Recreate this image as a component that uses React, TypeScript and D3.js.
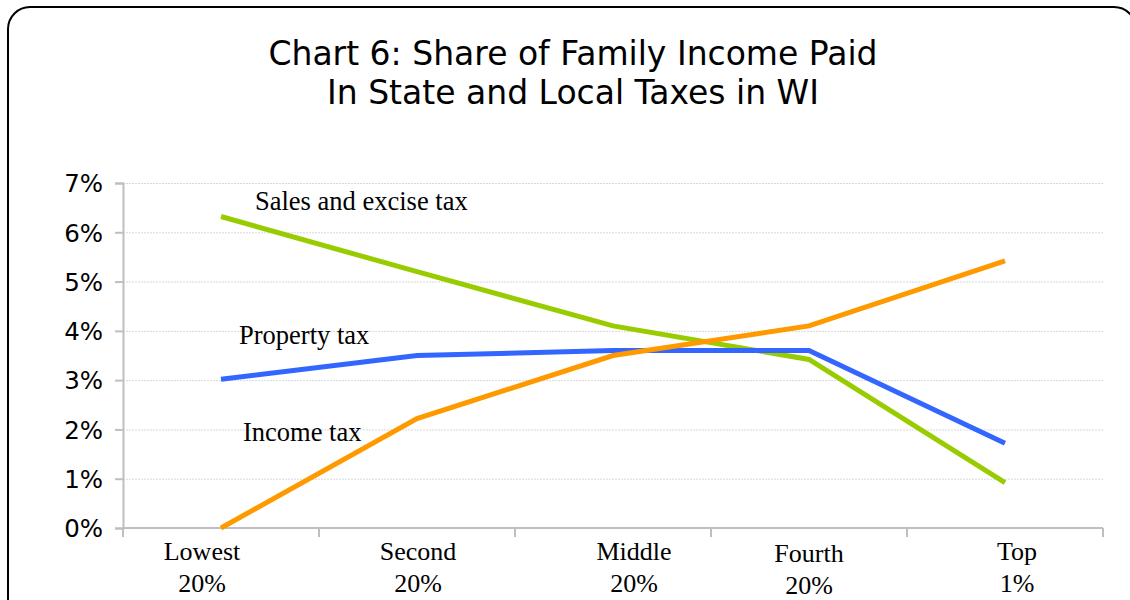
import { useEffect, useRef } from "react";
import * as d3 from "d3";

// Chart values
const categories = ["Lowest|20%", "Second|20%", "Middle|20%", "Fourth|20%", "Top|1%"];
const salesTax = [6.32, 5.2, 4.1, 3.42, 0.92];
const propertyTax = [3.02, 3.5, 3.6, 3.6, 1.72];
const incomeTax = [0.0, 2.22, 3.5, 4.1, 5.42];
const yTicks = [0, 1, 2, 3, 4, 5, 6, 7];
const titleLines = ["Chart 6: Share of Family Income Paid", "In State and Local Taxes in WI"];

const seriesNames = ["Sales and excise tax", "Property tax", "Income tax"];
const seriesColors = ["#99cc00", "#3366ff", "#ff9900"];

const width = 1130;
const height = 600;
const MARGIN = { top: 183, right: 27, bottom: 72, left: 123 };

// hand placement of text bits, like in the source chart
const LABEL_DX = [-19, 1, 21, 0, 12];
const LABEL_DY = [0, 0, 0, 2, 0];
const SERIES_LABEL_POS = [
  { x: 255, y: 210 },
  { x: 239, y: 344 },
  { x: 243, y: 441 },
];

export default function App() {
  const svgRef = useRef<SVGSVGElement | null>(null);

  useEffect(() => {
    const svg = d3.select(svgRef.current);
    svg.selectAll("*").remove();

    const boundsWidth = width - MARGIN.left - MARGIN.right;
    const boundsHeight = height - MARGIN.top - MARGIN.bottom;

    const xScale = d3
      .scaleBand<string>()
      .domain(categories)
      .range([0, boundsWidth]);
    const yScale = d3.scaleLinear().domain([0, 7]).range([boundsHeight, 0]);

    // frame
    svg
      .append("rect")
      .attr("x", 8)
      .attr("y", 7)
      .attr("width", 1128)
      .attr("height", 620)
      .attr("rx", 22)
      .attr("fill", "white")
      .attr("stroke", "black")
      .attr("stroke-width", 2);

    // title
    svg
      .append("g")
      .selectAll("text")
      .data(titleLines)
      .join("text")
      .attr("x", 573)
      .attr("y", (d, i) => 65 + i * 39)
      .attr("text-anchor", "middle")
      .attr("font-family", "DejaVu Sans, Verdana, sans-serif")
      .attr("font-size", 33)
      .attr("fill", "#000")
      .text((d) => d);

    const g = svg
      .append("g")
      .attr("transform", `translate(${MARGIN.left},${MARGIN.top})`);

    // gridlines
    g.append("g")
      .selectAll("line")
      .data(yTicks.slice(1))
      .join("line")
      .attr("x1", 0)
      .attr("x2", boundsWidth)
      .attr("y1", (d) => yScale(d) + 0.5)
      .attr("y2", (d) => yScale(d) + 0.5)
      .attr("stroke", "#d9d9d9")
      .attr("stroke-dasharray", "2,1");

    // y axis
    const yAxis = g
      .append("g")
      .call(
        d3
          .axisLeft(yScale)
          .tickValues(yTicks)
          .tickSize(8)
          .tickPadding(12)
          .tickFormat((d) => `${d}%`)
      );
    yAxis.select(".domain").attr("stroke", "#bfbfbf").attr("stroke-width", 2);
    yAxis.selectAll(".tick line").attr("stroke", "#bfbfbf").attr("stroke-width", 2);
    yAxis
      .selectAll(".tick text")
      .attr("font-family", "DejaVu Sans, Verdana, sans-serif")
      .attr("font-size", 24.5)
      .attr("fill", "#000")
      .attr("dy", "0.36em");

    // x axis: line + ticks at category boundaries
    const xAxis = g.append("g").attr("transform", `translate(0,${boundsHeight})`);
    xAxis
      .append("line")
      .attr("x1", 0)
      .attr("x2", boundsWidth)
      .attr("stroke", "#bfbfbf")
      .attr("stroke-width", 2);
    const boundaries = categories.map((c) => xScale(c) as number).concat(boundsWidth);
    xAxis
      .selectAll("line.tk")
      .data(boundaries)
      .join("line")
      .attr("class", "tk")
      .attr("x1", (d) => d)
      .attr("x2", (d) => d)
      .attr("y1", 0)
      .attr("y2", 9)
      .attr("stroke", "#bfbfbf")
      .attr("stroke-width", 2);

    const labels = xAxis
      .selectAll("text.cat")
      .data(categories)
      .join("text")
      .attr("class", "cat")
      .attr("text-anchor", "middle")
      .attr("font-family", "Liberation Serif, Times New Roman, serif")
      .attr("font-size", 26)
      .attr("fill", "#000");
    labels.each(function (d, i) {
      const cx = (xScale(d) as number) + xScale.bandwidth() / 2 + LABEL_DX[i];
      const parts = d.split("|");
      d3.select(this)
        .selectAll("tspan")
        .data(parts)
        .join("tspan")
        .attr("x", cx)
        .attr("y", (p, j) => 32 + LABEL_DY[i] + j * 32)
        .text((p) => p);
    });

    // lines
    const allSeries = [salesTax, propertyTax, incomeTax];
    const line = d3
      .line<number>()
      .x((d, i) => (xScale(categories[i]) as number) + xScale.bandwidth() / 2)
      .y((d) => yScale(d));

    g.append("g")
      .selectAll("path")
      .data(allSeries)
      .join("path")
      .attr("d", (d) => line(d))
      .attr("fill", "none")
      .attr("stroke", (d, i) => seriesColors[i])
      .attr("stroke-width", 5);

    // series labels
    svg
      .append("g")
      .selectAll("text")
      .data(seriesNames)
      .join("text")
      .attr("x", (d, i) => SERIES_LABEL_POS[i].x)
      .attr("y", (d, i) => SERIES_LABEL_POS[i].y)
      .attr("font-family", "Liberation Serif, Times New Roman, serif")
      .attr("font-size", 26.5)
      .attr("fill", "#000")
      .text((d) => d);
  }, []);

  return (
    <svg
      width={width}
      height={height}
      ref={svgRef}
      style={{ position: "absolute", left: 0, top: 0 }}
    />
  );
}
